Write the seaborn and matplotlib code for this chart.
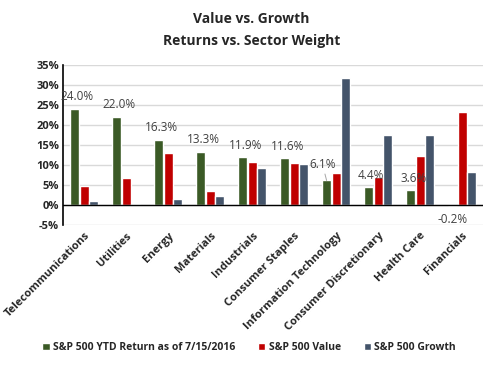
import matplotlib
matplotlib.use("Agg")
import matplotlib.pyplot as plt
import seaborn as sns
import pandas as pd

sectors = ['Telecommunications', 'Utilities', 'Energy', 'Materials', 'Industrials',
           'Consumer Staples', 'Information Technology', 'Consumer Discretionary',
           'Health Care', 'Financials']
ytd_return = [24.0, 22.0, 16.3, 13.3, 11.9, 11.6, 6.1, 4.4, 3.6, -0.2]
value_weight = [4.6, 6.6, 13.0, 3.5, 10.8, 10.5, 8.0, 7.0, 12.3, 23.3]
growth_weight = [1.0, 0.3, 1.5, 2.3, 9.3, 10.3, 31.8, 17.5, 17.5, 8.3]
series_names = ['S&P 500 YTD Return as of 7/15/2016', 'S&P 500 Value', 'S&P 500 Growth']
colors = ['#3b5a26', '#c00000', '#44546a']

df = pd.DataFrame({
    'sector': sectors * 3,
    'series': [series_names[0]] * 10 + [series_names[1]] * 10 + [series_names[2]] * 10,
    'val': ytd_return + value_weight + growth_weight,
})

sns.set_style('white')
plt.rcParams['font.family'] = ['Open Sans', 'DejaVu Sans']

fig = plt.figure(figsize=(4.98, 3.65), dpi=100)
ax = fig.add_axes([0.127, 0.384, 0.843, 0.438])

sns.barplot(data=df, x='sector', y='val', hue='series', palette=colors,
            width=0.68, gap=0.06, ax=ax, legend=True, saturation=1)

ax.set_ylim(-5, 35)
ax.set_xlim(-0.5, 9.5)
ax.set_yticks(range(-5, 36, 5))
ax.set_yticklabels([f'{t}%' for t in range(-5, 36, 5)], fontsize=8, fontweight='bold')
ax.set_xticks(range(10))
ax.set_xticklabels(sectors, rotation=45, ha='right', rotation_mode='anchor',
                   fontsize=8, fontweight='bold')
ax.tick_params(axis='x', length=0, pad=4)
ax.tick_params(axis='y', length=0, pad=3)
ax.set_xlabel('')
ax.set_ylabel('')
ax.yaxis.grid(True, color='#d9d9d9', linewidth=1)
ax.set_axisbelow(True)
ax.axhline(0, color='black', linewidth=1.0, zorder=3)
for s in ['top', 'right', 'bottom']:
    ax.spines[s].set_visible(False)
ax.spines['left'].set_color('black')
ax.spines['left'].set_linewidth(1.2)

# data labels for the YTD series
bar_w = 0.68 / 3
for i, v in enumerate(ytd_return):
    x = i - bar_w
    if v < 0:
        ax.annotate(f'{v:.1f}%', (x, v), xytext=(0, -5), textcoords='offset points',
                    ha='center', va='top', fontsize=8.5, color='#404040')
    elif i == 6:
        ax.annotate(f'{v:.1f}%', (x, v), xytext=(-3, 7), textcoords='offset points',
                    ha='center', va='bottom', fontsize=8.5, color='#404040',
                    arrowprops=dict(arrowstyle='-', color='#a6a6a6', lw=0.7,
                                    shrinkA=0, shrinkB=0))
    else:
        ax.annotate(f'{v:.1f}%', (x, v), xytext=(2, 4), textcoords='offset points',
                    ha='center', va='bottom', fontsize=8.5, color='#404040')

fig.text(0.505, 0.948, 'Value vs. Growth', ha='center', va='center',
         fontsize=10, fontweight='bold')
fig.text(0.505, 0.888, 'Returns vs. Sector Weight', ha='center', va='center',
         fontsize=10, fontweight='bold')

handles, labels = ax.get_legend_handles_labels()
ax.get_legend().remove()
fig.legend(handles, labels, loc='center', bbox_to_anchor=(0.5, 0.048), ncol=3,
           frameon=False, prop={'weight': 'bold', 'size': 7.5},
           handlelength=0.7, handleheight=0.7, handletextpad=0.3, columnspacing=2.2)

fig.savefig('out.png', dpi=100)
